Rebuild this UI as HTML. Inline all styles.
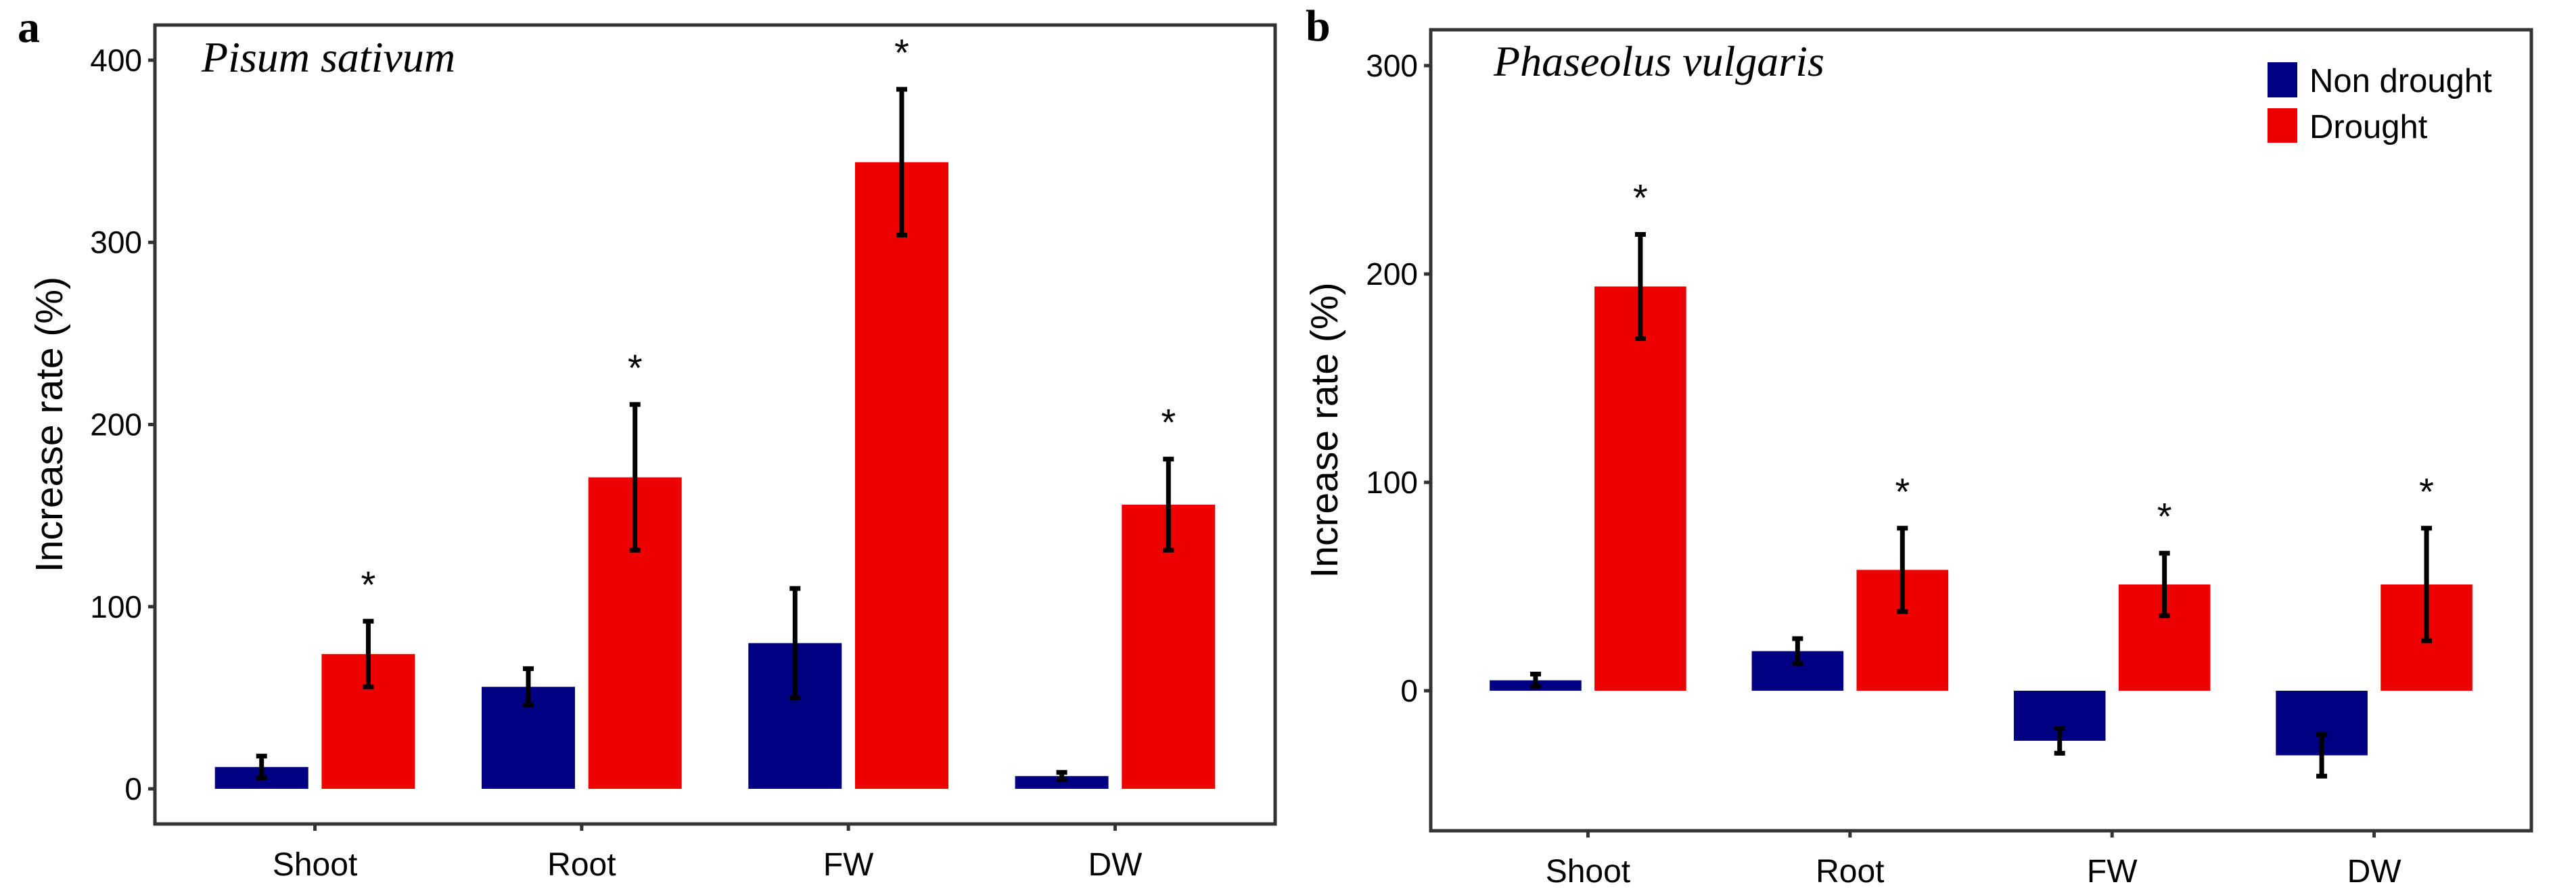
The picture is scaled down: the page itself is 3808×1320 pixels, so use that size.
<!DOCTYPE html>
<html><head><meta charset="utf-8"><style>
html,body{margin:0;padding:0;background:#fff;}
svg{display:block;}
</style></head><body>
<svg id="chart" width="3808" height="1320" xmlns="http://www.w3.org/2000/svg"></svg>
<script>
const categories = ["Shoot","Root","FW","DW"];
const peaNonDrought = [12, 56, 80, 7];
const peaNonDroughtErr = [6, 10, 30, 2];
const peaDrought = [74, 171, 344, 156];
const peaDroughtErr = [18, 40, 40, 25];
const beanNonDrought = [5, 19, -24, -31];
const beanNonDroughtErr = [3, 6, 6, 10];
const beanDrought = [194, 58, 51, 51];
const beanDroughtErr = [25, 20, 15, 27];
const peaTicks = [0, 100, 200, 300, 400];
const beanTicks = [0, 100, 200, 300];

const NS = "http://www.w3.org/2000/svg";
const svg = document.getElementById("chart");
function mk(tag, attrs, parent, text){
  const e = document.createElementNS(NS, tag);
  for (const k in attrs) e.setAttribute(k, attrs[k]);
  if (text !== undefined) e.textContent = text;
  (parent || svg).appendChild(e);
  return e;
}
const SANS = "'Liberation Sans', sans-serif";
const SERIF = "'Liberation Serif', serif";

function panel(cfg){
  const g = mk("g", {});
  
  
  const L=cfg.left, R=cfg.right, T=cfg.top, B=cfg.bottom;
  const y = v => B - (v - cfg.ymin) / (cfg.ymax - cfg.ymin) * (B - T);
  const band = (R - L) / 4.2;
  const x = i => L + (0.6 + i) * band;
  const bw = band * 0.35, off = band * 0.2;
  cfg.ticks.forEach(t => {
    const tk = mk("line", {x1:L-10, x2:L, y1:y(t), y2:y(t), stroke:"#333", "stroke-width":5}, g);
    
    
    const lb = mk("text", {x:L-19, y:y(t)+16, "text-anchor":"end", "font-family":SANS, "font-size":46, fill:"#000"}, g, t);
    
    
  });
  categories.forEach((c, i) => {
    const tk = mk("line", {x1:x(i), x2:x(i), y1:B, y2:B+10, stroke:"#333", "stroke-width":5}, g);
    
    
    const lb = mk("text", {x:x(i), y:B+76, "text-anchor":"middle", "font-family":SANS, "font-size":48, fill:"#000"}, g, c);
    
    
    const series = [
      {v:cfg.nd[i], e:cfg.ndE[i], cx:x(i)-off, col:"#000080", n:"bar-non-drought-"},
      {v:cfg.d[i], e:cfg.dE[i], cx:x(i)+off, col:"#ee0000", n:"bar-drought-"}
    ];
    series.forEach((s, si) => {
      const y0 = y(0), yv = y(s.v);
      const r = mk("rect", {x:s.cx-bw/2, y:Math.min(y0,yv), width:bw, height:Math.abs(y0-yv), fill:s.col}, g);
      
      
      const yt = y(s.v + s.e), yb = y(s.v - s.e);
      const eb = mk("path", {d:`M${s.cx},${yt}V${yb}M${s.cx-8},${yt}H${s.cx+8}M${s.cx-8},${yb}H${s.cx+8}`, stroke:"#000", "stroke-width":7, fill:"none"}, g);
      
      
      if (si === 1) {
        const a = mk("text", {x:s.cx, y:Math.min(yt,yb)-35, "text-anchor":"middle", "font-family":SANS, "font-size":56, fill:"#000"}, g, "*");
        
        
      }
    });
  });
  const box = mk("rect", {x:L, y:T, width:R-L, height:B-T, fill:"none", stroke:"#333", "stroke-width":5}, g);
  
  
  const cy = (T + B) / 2;
  const yt = mk("text", {x:cfg.titleX, y:cy, transform:`rotate(-90 ${cfg.titleX} ${cy})`, "text-anchor":"middle", "font-family":SANS, "font-size":57, fill:"#000"}, g, "Increase rate (%)");
  
  
  const sp = mk("text", {x:cfg.spX, y:cfg.spY, "font-family":SERIF, "font-style":"italic", "font-size":64, fill:"#000"}, g, cfg.species);
  
  
  const pl = mk("text", {x:cfg.letterX, y:cfg.letterY, "font-family":SERIF, "font-weight":"bold", "font-size":66, fill:"#000"}, g, cfg.letter);
  
  
  return g;
}

panel({name:"panel-a-pisum", left:229, right:1885, top:37, bottom:1218, ymin:-19.3, ymax:419.3,
  ticks:peaTicks, nd:peaNonDrought, ndE:peaNonDroughtErr, d:peaDrought, dE:peaDroughtErr,
  titleX:92, species:"Pisum sativum", spX:298, spY:106, letter:"a", letterX:26, letterY:62});
panel({name:"panel-b-phaseolus", left:2115, right:3742, top:44, bottom:1228, ymin:-67.2, ymax:317.2,
  ticks:beanTicks, nd:beanNonDrought, ndE:beanNonDroughtErr, d:beanDrought, dE:beanDroughtErr,
  titleX:1977, species:"Phaseolus vulgaris", spX:2208, spY:112, letter:"b", letterX:1930, letterY:60});

const lg = mk("g", {});


const l1 = mk("rect", {x:3352, y:92, width:44, height:52, fill:"#000080"}, lg);


const t1 = mk("text", {x:3414, y:136, "font-family":SANS, "font-size":49, fill:"#000"}, lg, "Non drought");


const l2 = mk("rect", {x:3352, y:160, width:44, height:51, fill:"#ee0000"}, lg);


const t2 = mk("text", {x:3414, y:204, "font-family":SANS, "font-size":49, fill:"#000"}, lg, "Drought");


</script>
</body></html>
